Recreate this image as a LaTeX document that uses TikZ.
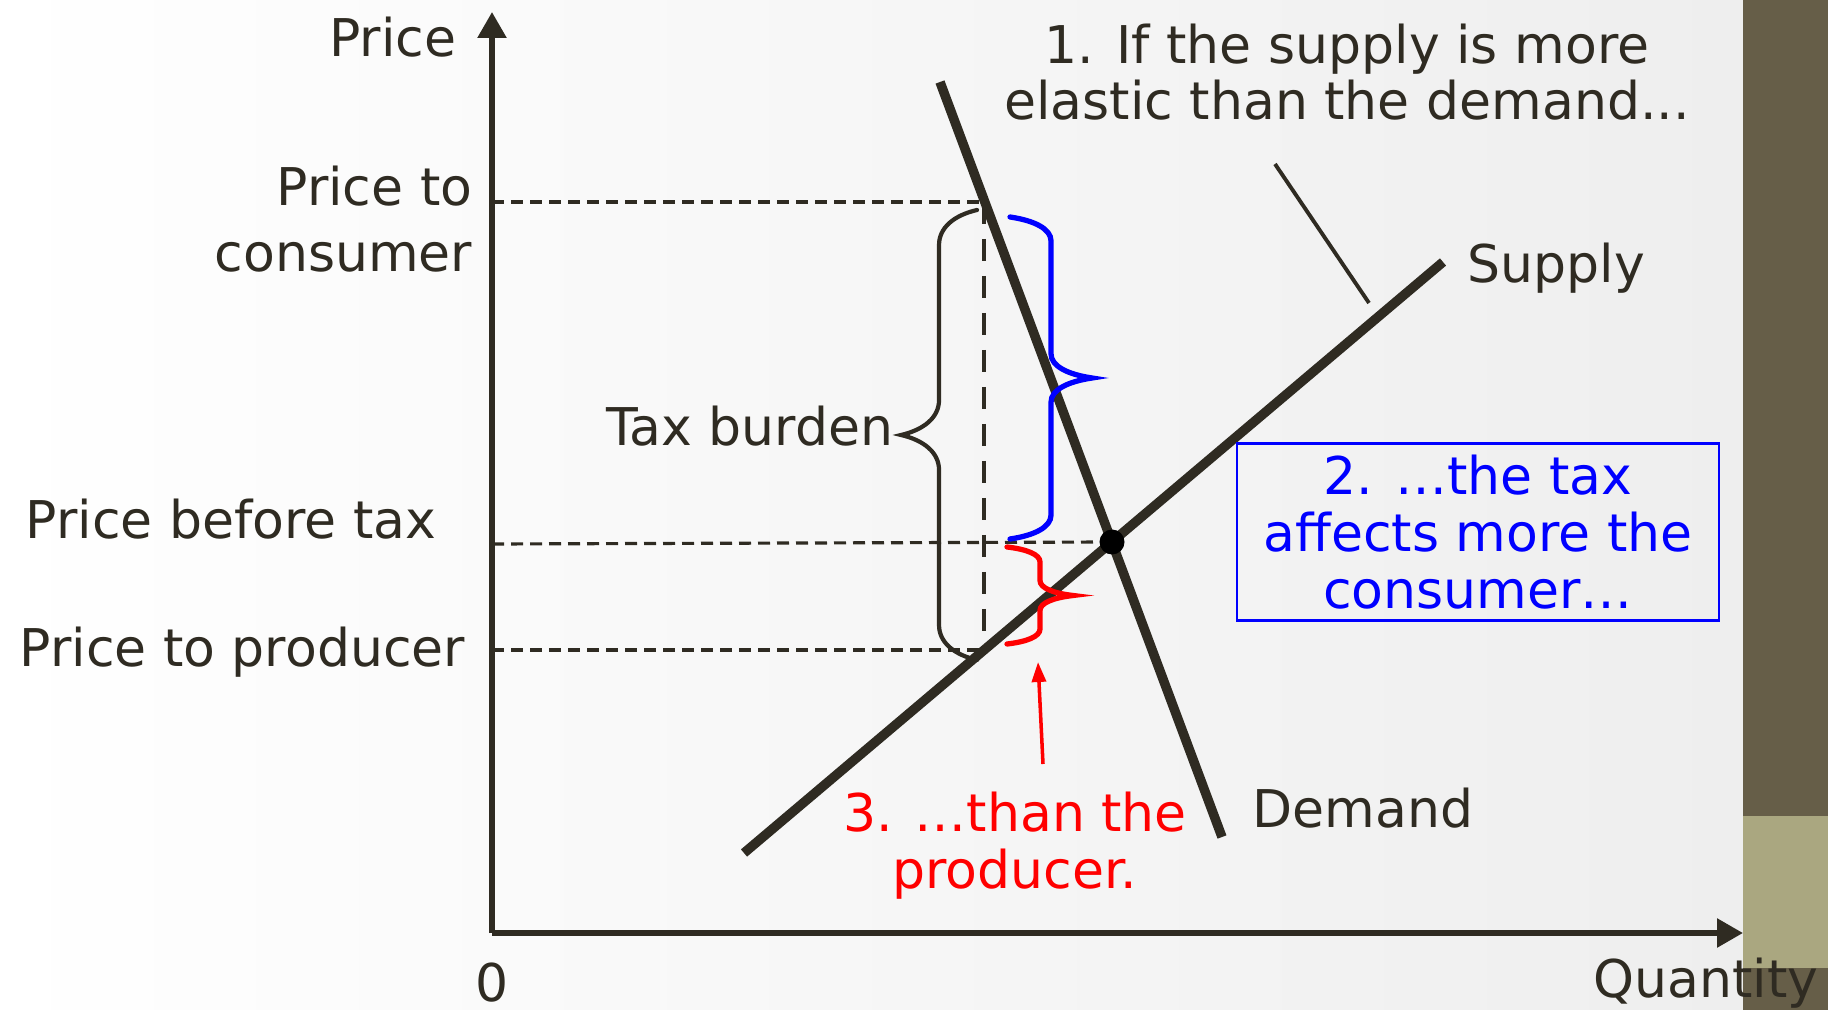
\documentclass[tikz,border=0pt]{standalone}
\usepackage{fontspec}
\setmainfont{DejaVu Sans}
\usepackage{tikz}
\usetikzlibrary{arrows.meta,calc,decorations.pathreplacing}
\definecolor{ink}{RGB}{47,43,34}
\definecolor{paper}{RGB}{238,238,238}
\definecolor{bandtop}{RGB}{102,94,72}
\definecolor{bandlow}{RGB}{170,167,128}
\definecolor{pureblue}{RGB}{0,0,255}
\definecolor{purered}{RGB}{255,0,0}
\newcommand{\chartfont}{\fontsize{14.8}{16.2}\selectfont}
\tikzset{
  axisline/.style = {draw=ink, line width=1.6pt, -{Triangle[length=2.6mm, width=2.8mm]}},
  market/.style   = {draw=ink, line width=2.7pt},
  guide/.style    = {draw=ink, line width=0.9pt, dash pattern=on 1.2mm off 0.7mm},
  taxline/.style  = {draw=ink, line width=1.4pt, dash pattern=on 2.2mm off 1.5mm},
  bracket/.style 2 args = {decorate, line cap=round,
      decoration={brace, amplitude=#1, transform={yscale=#2}}},
  lbl/.style      = {inner sep=0pt, text=ink, font=\chartfont},
  note/.style     = {lbl, align=center},
}

\begin{document}
\begin{tikzpicture}[x=0.1mm, y=-0.1mm]
    % Page and side band
    \useasboundingbox (0,0) rectangle (1828,1010);
    \shade[left color=white, right color=paper] (0,0) rectangle (1743,1010);
    \fill[bandtop] (1743,0) rectangle (1828,816);
    \fill[bandlow] (1743,816) rectangle (1828,968);
    \fill[bandtop] (1743,968) rectangle (1828,1010);

    % Key points
    \coordinate (O) at (492,933);
    \coordinate (ytip) at (492,12);
    \coordinate (xtip) at (1743,933);
    \coordinate (E) at (1112,542);
    \coordinate (Dtop) at (940,82);
    \coordinate (Dbot) at (1222,837);
    \coordinate (Sbot) at (744,853);
    \coordinate (Stop) at (1443,262);
    \coordinate (Pc) at (492,202);
    \coordinate (Cc) at (984,202);
    \coordinate (Pb) at (492,544);
    \coordinate (Pp) at (492,650);
    \coordinate (Cp) at (984,650);

    % Price levels
    \draw[guide] (Pc) -- (Cc);
    \draw[guide] (Pb) -- (E);
    \draw[guide] (Pp) -- (Cp);
    \draw[taxline] (Cc) -- (Cp);

    % Axes
    \draw[axisline] (O) -- (ytip);
    \draw[axisline] (O) -- (xtip);

    % Supply and demand
    \draw[market] (Dtop) -- (Dbot);
    \draw[market] (Sbot) -- (Stop);
    \fill[black] (E) circle (1.25mm);

    % Braces
    \draw[bracket={3.5mm}{2.17}, draw=ink, line width=1.2pt] (977,660) -- (977,210);
    \draw[bracket={2.4mm}{3.42}, draw=pureblue, line width=1.5pt] (1010,217) -- (1010,539);
    \draw[bracket={1.5mm}{4.4}, draw=purered, line width=1.5pt] (1007,547) -- (1007,644);

    % Axis labels
    \node[lbl, anchor=base east] (pricelbl) at (457,57) {Price};
    \node[lbl, anchor=base] (zero) at (492,1001) {0};
    \node[lbl, anchor=base west] (qtylbl) at (1593,997) {Quantity};
    \node[lbl, anchor=base east, align=right, font=\fontsize{14.8}{19}\selectfont] (pclbl) at (473,272) {Price to\\consumer};
    \node[lbl, anchor=base west] (pblbl) at (25,538) {Price before tax};
    \node[lbl, anchor=base west] (pplbl) at (19,667) {Price to producer};
    \node[lbl, anchor=base east] (taxlbl) at (894,446) {Tax burden};
    \node[lbl, anchor=base west] (supplbl) at (1467,283) {Supply};
    \node[lbl, anchor=base west] (demlbl) at (1252,827) {Demand};

    % Notes
    \node[note, anchor=base] (note1) at (1347,120) {1. If the supply is more\\elastic than the demand...};
    \coordinate (hint) at (1275,164);
    \coordinate (hintend) at (1369,303);
    \draw[draw=ink, line width=1.1pt] (hint) -- (hintend);

    \node[note, text=pureblue, draw=pureblue, line width=0.8pt,
          minimum width=48.2mm, minimum height=17.7mm] (note2) at (1478,532) {2. …the tax\\affects more the\\consumer…};

    \node[note, text=purered, anchor=base] (note3) at (1015,888) {3. …than the\\producer.};
    \coordinate (arrtail) at (1043,764);
    \coordinate (arrtip) at (1038,662);
    \draw[draw=purered, line width=1pt, -{Triangle[length=2mm, width=1.4mm]}] (arrtail) -- (arrtip);
\end{tikzpicture}
\end{document}
